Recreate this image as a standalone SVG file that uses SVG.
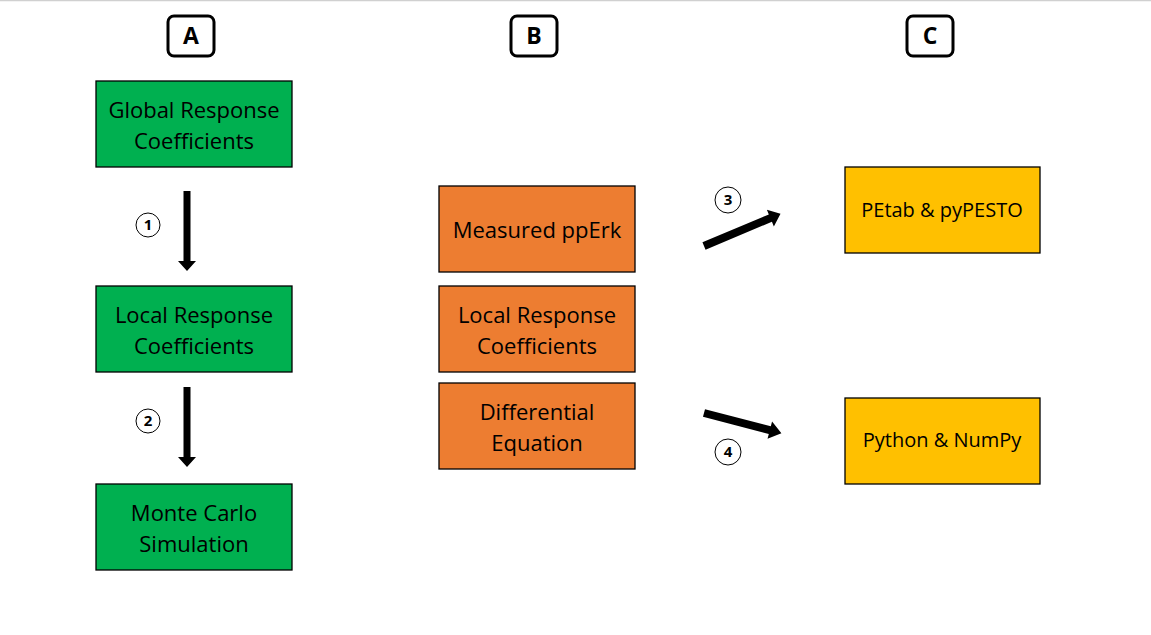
<svg xmlns="http://www.w3.org/2000/svg" width="1151" height="635" viewBox="0 0 1151 635">
<style>
.t{font-family:"Open Sans","Liberation Sans",sans-serif;font-size:22px;fill:#000;text-anchor:middle}
.s{font-size:20px}
.lb{fill:#fff;stroke:#000;stroke-width:3}
.lt{font-family:"Open Sans","Liberation Sans",sans-serif;font-size:23px;font-weight:bold;text-anchor:middle}
.g{fill:#00B050;stroke:#000;stroke-width:1.3}
.o{fill:#ED7D31;stroke:#000;stroke-width:1.3}
.y{fill:#FFC000;stroke:#000;stroke-width:1.3}
.c{fill:#fff;stroke:#000;stroke-width:1}
.n{font-family:"Open Sans","Liberation Sans",sans-serif;font-size:15px;font-weight:bold;text-anchor:middle}
</style>
<rect width="1151" height="635" fill="#fff"/>
<line x1="0" y1="0.5" x2="1151" y2="0.5" stroke="#d0d0d0" stroke-width="1.5"/>
<g id="labelA"><rect class="lb" x="168" y="16" width="46" height="40" rx="6"/><text class="lt" x="191" y="44">A</text></g>
<g id="labelB"><rect class="lb" x="511" y="16" width="46" height="40" rx="6"/><text class="lt" x="534" y="44">B</text></g>
<g id="labelC"><rect class="lb" x="907" y="16" width="46" height="40" rx="6"/><text class="lt" x="930" y="44">C</text></g>
<g id="global"><rect class="g" x="96" y="81" width="196" height="86"/><text class="t" x="194" y="118">Global Response</text><text class="t" x="194" y="149">Coefficients</text></g>
<g id="localA"><rect class="g" x="96" y="286" width="196" height="86"/><text class="t" x="194" y="323">Local Response</text><text class="t" x="194" y="354">Coefficients</text></g>
<g id="monte"><rect class="g" x="96" y="484" width="196" height="86"/><text class="t" x="194" y="521">Monte Carlo</text><text class="t" x="194" y="552">Simulation</text></g>
<g id="measured"><rect class="o" x="439" y="186" width="196" height="86"/><text class="t" x="537" y="238">Measured ppErk</text></g>
<g id="localB"><rect class="o" x="439" y="286" width="196" height="86"/><text class="t" x="537" y="323">Local Response</text><text class="t" x="537" y="354">Coefficients</text></g>
<g id="diffeq"><rect class="o" x="439" y="383" width="196" height="86"/><text class="t" x="537" y="420">Differential</text><text class="t" x="537" y="451">Equation</text></g>
<g id="petab"><rect class="y" x="845" y="167" width="195" height="86"/><text class="t s" x="942" y="217">PEtab &amp; pyPESTO</text></g>
<g id="python"><rect class="y" x="845" y="398" width="195" height="86"/><text class="t s" x="942" y="447">Python &amp; NumPy</text></g>
<g id="connectors">
<polygon points="183.5,191 190.5,191 190.5,261 196,261 187,271 178,261 183.5,261"/>
<polygon points="183.5,387 190.5,387 190.5,457 196,457 187,467 178,457 183.5,457"/>
<g transform="translate(704,246) rotate(-22.8)"><polygon points="0,-4 72,-4 72,-9 83,0 72,9 72,4 0,4"/></g>
<g transform="translate(704,413) rotate(14.6)"><polygon points="0,-4 68,-4 68,-9 80,0 68,9 68,4 0,4"/></g>
<circle class="c" cx="148" cy="225" r="12"/><text class="n" x="148" y="230">1</text>
<circle class="c" cx="148" cy="421" r="12"/><text class="n" x="148" y="426">2</text>
<circle class="c" cx="728" cy="200" r="13"/><text class="n" x="728" y="205">3</text>
<circle class="c" cx="728" cy="452" r="13"/><text class="n" x="728" y="457">4</text>
</g>
</svg>
